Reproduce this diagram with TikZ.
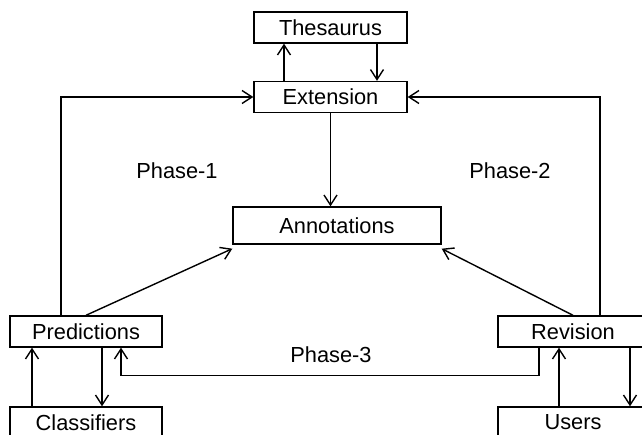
\documentclass[tikz,border=0pt]{standalone}
\usepackage{fontspec}
\setmainfont{Liberation Sans}
\usetikzlibrary{arrows.meta}
\begin{document}
\begin{tikzpicture}[x=1pt,y=-1pt,
  box/.style={draw,line width=1.4pt,inner sep=0pt,minimum height=31pt,
    font=\fontsize{21.8}{24}\selectfont},
  lbl/.style={font=\fontsize{21.8}{24}\selectfont},
  arr/.style={line width=1.4pt,-{Straight Barb[length=10pt,width=13pt,line width=1.4pt]}},
  line/.style={line width=1.4pt}]
\useasboundingbox (0,0) rectangle (642,435);
\clip (0,0) rectangle (642,435);
% boxes
\node[box,minimum width=153pt] (thes) at (330.5,27.5) {Thesaurus};
\node[box,minimum width=153pt] (ext) at (330.5,97) {Extension};
\node[box,minimum width=208pt,minimum height=37pt] (ann) at (337,225.5) {Annotations};
\node[box,minimum width=152pt] (pred) at (86,331.5) {Predictions};
\node[box,minimum width=152pt] (cls) at (86,422.5) {Classifiers};
\node[box,minimum width=150pt] (rev) at (573,331.5) {Revision};
\node[box,minimum width=150pt] (usr) at (573,422.5) {Users};
% labels
\node[lbl] (p1) at (177,171) {Phase-1};
\node[lbl] (p2) at (510,171) {Phase-2};
\node[lbl] (p3) at (331,355) {Phase-3};
% thesaurus loop
\draw[arr] ([xshift=-46.5pt]ext.north) -- ([xshift=-46.5pt]thes.south);
\draw[arr] ([xshift=46.5pt]thes.south) -- ([xshift=46.5pt]ext.north);
% extension to annotations
\draw[arr] (ext.south) -- (ann.north -| ext.south);
% feedback into extension
\draw[arr] ([xshift=-25pt]pred.north) |- (ext.west);
\draw[arr] ([xshift=27pt]rev.north) |- (ext.east);
% into annotations
\draw[arr] (pred.north) -- ([yshift=-4pt]ann.south west);
\draw[arr] (rev.north) -- ([yshift=-4pt]ann.south east);
% classifiers loop
\draw[arr] ([xshift=-54pt]cls.north) -- ([xshift=-54pt]pred.south);
\draw[arr] ([xshift=16pt]pred.south) -- ([xshift=16pt]cls.north);
% revision back to predictions
\draw[arr] ([xshift=-34pt]rev.south) -- ++(0,28) -| ([xshift=35pt]pred.south);
% users loop
\draw[arr] ([xshift=-14pt]usr.north) -- ([xshift=-14pt]rev.south);
\draw[arr] ([xshift=57pt]rev.south) -- ([xshift=57pt]usr.north);
\end{tikzpicture}
\end{document}
